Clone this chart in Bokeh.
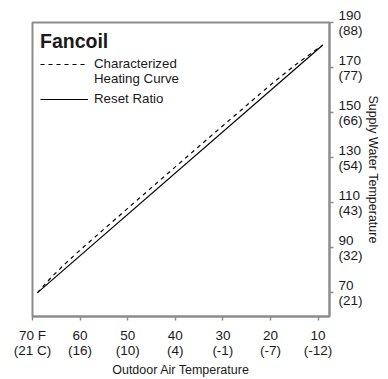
from bokeh.plotting import figure
from bokeh.models import LinearAxis, Range1d, FixedTicker, Legend, LegendItem
from bokeh.embed import file_html
from bokeh.resources import INLINE

# ---- data ----
outdoor_ticks = [70, 60, 50, 40, 30, 20, 10]
outdoor_tick_labels = ["70 F\n(21 C)", "60\n(16)", "50\n(10)", "40\n(4)",
                       "30\n(-1)", "20\n(-7)", "10\n(-12)"]
supply_ticks = [70, 90, 110, 130, 150, 170, 190]
supply_tick_labels = ["70\n(21)", "90\n(32)", "110\n(43)", "130\n(54)",
                      "150\n(66)", "170\n(77)", "190\n(88)"]
reset_outdoor = [69, 9]
reset_supply = [70, 180]
curve_outdoor = [69, 66, 63, 60, 50, 40, 30, 20, 15, 12, 9]
curve_supply = [70, 77.0, 83.2, 89.0, 107.5, 125.9, 144.2, 162.3, 170.8, 175.5, 180]

FONT = "Liberation Sans"
GRAY = "#8c8c8c"
TXT = "#1a1a1a"

p = figure(width=388, height=379, output_backend="svg", toolbar_location=None,
           x_range=Range1d(70, 7.6), y_range=Range1d(59.5, 190),
           x_axis_location=None, y_axis_location=None,
           min_border_left=32, min_border_top=22,
           min_border_right=59, min_border_bottom=54)
p.xgrid.visible = False
p.ygrid.visible = False
p.outline_line_color = GRAY
p.outline_line_width = 2
p.background_fill_color = "white"
p.border_fill_color = "white"

xaxis = LinearAxis(ticker=FixedTicker(ticks=outdoor_ticks),
                   axis_label="Outdoor Air Temperature")
xaxis.major_label_overrides = dict(zip(outdoor_ticks, outdoor_tick_labels))
yaxis = LinearAxis(ticker=FixedTicker(ticks=supply_ticks),
                   axis_label="Supply Water Temperature")
yaxis.major_label_overrides = dict(zip(supply_ticks, supply_tick_labels))
for ax in (xaxis, yaxis):
    ax.axis_line_color = GRAY
    ax.axis_line_width = 2
    ax.major_tick_line_color = GRAY
    ax.major_tick_line_width = 1.5
    ax.major_tick_out = 4
    ax.major_tick_in = 0
    ax.minor_tick_line_color = None
    ax.major_label_text_font = FONT
    ax.major_label_text_font_size = "13.5px"
    ax.major_label_text_line_height = 1.0
    ax.major_label_text_color = TXT
    ax.axis_label_text_font = FONT
    ax.axis_label_text_font_size = "12.5px"
    ax.axis_label_text_font_style = "normal"
    ax.axis_label_text_color = TXT
xaxis.major_label_standoff = 7
xaxis.axis_label_standoff = 2
yaxis.major_label_standoff = 5
yaxis.axis_label_standoff = 0
yaxis.major_label_text_align = "center"
p.add_layout(xaxis, "below")
p.add_layout(yaxis, "right")

r_dash = p.line(curve_outdoor, curve_supply, line_color="black", line_width=1.2,
                line_dash="4 4")
r_solid = p.line(reset_outdoor, reset_supply, line_color="black", line_width=1.2)
r_blank = p.line([], [], line_alpha=0)


def style_legend(lg):
    lg.label_text_font = FONT
    lg.label_text_font_size = "13.3px"
    lg.label_text_line_height = 1.1
    lg.label_text_color = TXT
    lg.glyph_width = 48
    lg.glyph_height = 14
    lg.label_height = 14
    lg.label_standoff = 6
    lg.spacing = 0
    lg.margin = 0
    lg.border_line_alpha = 0
    lg.background_fill_alpha = 0


legend1 = Legend(items=[LegendItem(label="Characterized", renderers=[r_dash]),
                        LegendItem(label="Heating Curve", renderers=[r_blank])],
                 location="top_left", title="Fancoil")
style_legend(legend1)
legend1.padding = 8
legend1.title_text_font = FONT
legend1.title_text_font_style = "bold"
legend1.title_text_font_size = "19.5px"
legend1.title_text_color = TXT
legend1.title_standoff = 3
p.add_layout(legend1)

legend2 = Legend(items=[LegendItem(label="Reset Ratio", renderers=[r_solid])],
                 location=(8, 210))
style_legend(legend2)
legend2.padding = 0
p.add_layout(legend2)

open("out.html", "w").write(file_html(p, INLINE))
